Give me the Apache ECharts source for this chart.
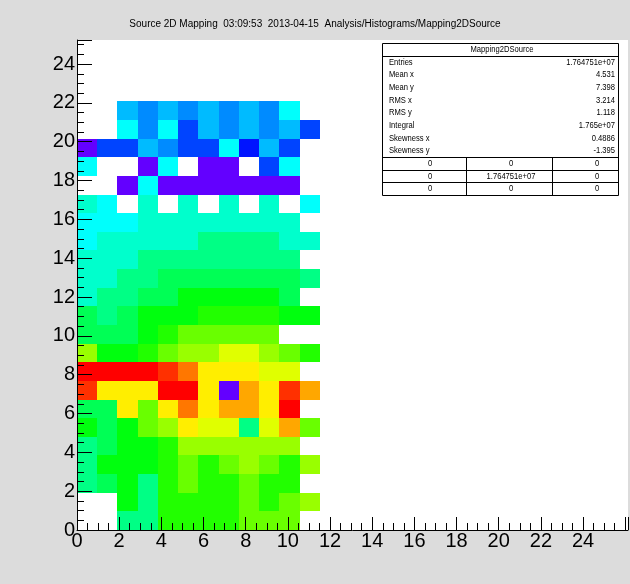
<!DOCTYPE html>
<html>
<head>
<meta charset="utf-8">
<script src="https://cdn.jsdelivr.net/npm/echarts@6/dist/echarts.min.js"></script>
<style>
  html, body { margin: 0; padding: 0; background: #dcdcdc; }
  #chart { width: 630px; height: 584px; }
</style>
</head>
<body>
<div id="chart"></div>
<script>
// ---- histogram definition ----
const titleText = 'Source 2D Mapping  03:09:53  2013-04-15  Analysis/Histograms/Mapping2DSource';
const histName = 'Mapping2DSource';
const binRange = [0, 24];      // same range on x and y
const binCount = 25;           // bins per axis
const topRow = 22;             // highest filled y bin

// colour level of every bin (0 = lowest of 20 contour levels, null = empty),
// listed from the top row (bin 22) down to bin 0, columns 0..11
const levelRows = [
  [null, null, 5, 4, 5, 4, 5, 4, 5, 4, 6, null],
  [null, null, 6, 4, 6, 3, 5, 4, 5, 4, 5, 3],
  [0, 3, 3, 5, 4, 3, 3, 6, 2, 5, 3, null],
  [6, null, null, 0, 6, null, 0, 0, null, 3, 6, null],
  [null, null, 0, 6, 0, 0, 0, 0, 0, 0, 0, null],
  [7, 6, null, 7, null, 7, null, 7, null, 7, null, 6],
  [6, 6, 6, 7, 7, 7, 7, 7, 7, 7, 7, null],
  [6, 7, 7, 7, 7, 7, 8, 8, 8, 8, 7, 7],
  [7, 7, 7, 8, 8, 8, 8, 8, 8, 8, 8, null],
  [7, 7, 8, 8, 9, 9, 9, 9, 9, 9, 9, 8],
  [7, 8, 8, 9, 9, 10, 10, 10, 10, 10, 9, null],
  [9, 8, 9, 10, 10, 10, 11, 11, 11, 11, 10, 10],
  [9, 9, 9, 10, 11, 12, 12, 12, 12, 12, null, null],
  [13, 10, 10, 11, 12, 13, 13, 14, 14, 13, 12, 11],
  [19, 19, 19, 19, 18, 17, 15, 15, 15, 14, 14, null],
  [18, 15, 15, 15, 19, 19, 15, 0, 16, 15, 18, 16],
  [9, 9, 15, 12, 15, 17, 15, 16, 16, 15, 19, null],
  [10, 9, 10, 12, 13, 15, 14, 14, 8, 14, 16, 12],
  [8, 9, 10, 10, 11, 13, 13, 13, 13, 13, 13, null],
  [8, 10, 10, 10, 11, 12, 11, 12, 13, 12, 11, 13],
  [8, 9, 10, 8, 11, 12, 11, 11, 12, 11, 11, null],
  [null, null, 10, 8, 11, 11, 11, 11, 12, 11, 12, 13],
  [null, null, 8, 8, 11, 11, 11, 11, 12, 12, 12, null]
];

// statistics box
const statLabels = ['Entries', 'Mean x', 'Mean y', 'RMS x', 'RMS y', 'Integral', 'Skewness x', 'Skewness y'];
const statValues = ['1.764751e+07', '4.531', '7.398', '3.214', '1.118', '1.765e+07', '0.4886', '-1.395'];
const overflowTable = [
  ['0', '0', '0'],
  ['0', '1.764751e+07', '0'],
  ['0', '0', '0']
];

// axis extents and tick labels
const xAxisMax = 26.13;
const yAxisMax = 25.24;
const tickStep = 2;
const lastLabel = 24;

// ---- palette: 20 contour levels picked from a 50-colour violet->red spectrum ----
const nLevels = 20, nPalette = 50;
function hslColor(h) {
  const f = (n) => {
    const k = (n + h / 30) % 12;
    const v = 0.5 - 0.5 * Math.max(-1, Math.min(k - 3, 9 - k, 1));
    return Math.round(v * 255);
  };
  return 'rgb(' + f(0) + ',' + f(8) + ',' + f(4) + ')';
}
function levelColor(j) {
  const idx = Math.floor((j + 0.99) * nPalette / nLevels);
  const hue = idx >= nPalette - 1 ? 0 : 280 - (idx + 1) * (280 / nPalette);
  return hslColor(hue);
}
const pieces = [];
for (let j = 0; j < nLevels; j++) pieces.push({ value: j, color: levelColor(j) });

// flatten to [column, row, level]
const cells = [];
levelRows.forEach((row, i) => {
  const r = topRow - i;
  row.forEach((lvl, c) => { if (lvl !== null) cells.push([c, r, lvl]); });
});
const binEdge = (k) => binRange[0] + k * (binRange[1] - binRange[0]) / binCount;

// ---- stats box drawing ----
const box = { x: 382, y: 43, w: 236, h: 152 };
const lineH = box.h / 12;
const narrow = 0.8;
const boxFont = '9.5px "Liberation Sans", Arial, sans-serif';
const graphics = [];
graphics.push({
  type: 'text', x: 315, y: 24, z: 100,
  style: { text: titleText, font: '10px "Liberation Sans", Arial, sans-serif', fill: '#000', textAlign: 'center', textVerticalAlign: 'middle' }
});
graphics.push({ type: 'rect', z: 100, shape: { x: box.x + 0.5, y: box.y + 0.5, width: box.w, height: box.h }, style: { fill: '#fff', stroke: '#000', lineWidth: 1 } });
graphics.push({ type: 'text', z: 101, x: box.x + box.w / 2 + 2, y: box.y + lineH * 0.5, scaleX: narrow,
  style: { text: histName, font: boxFont, fill: '#000', textAlign: 'center', textVerticalAlign: 'middle' } });
graphics.push({ type: 'line', z: 101, shape: { x1: box.x, y1: Math.round(box.y + lineH) + 0.5, x2: box.x + box.w, y2: Math.round(box.y + lineH) + 0.5 }, style: { stroke: '#000', lineWidth: 1 } });
statLabels.forEach((lab, k) => {
  const cy = box.y + lineH * (k + 1.5);
  graphics.push({ type: 'text', z: 101, x: box.x + 7, y: cy, scaleX: narrow,
    style: { text: lab, font: boxFont, fill: '#000', textAlign: 'left', textVerticalAlign: 'middle' } });
  graphics.push({ type: 'text', z: 101, x: box.x + box.w - 3, y: cy, scaleX: narrow,
    style: { text: statValues[k], font: boxFont, fill: '#000', textAlign: 'right', textVerticalAlign: 'middle' } });
});
const tableTop = box.y + lineH * 9;
const colEdges = [box.x, 466, 552, box.x + box.w];
const colCenters = [430, 511, 597];
for (let k = 0; k < 3; k++) {
  const y = Math.round(tableTop + lineH * k) + 0.5;
  graphics.push({ type: 'line', z: 101, shape: { x1: box.x, y1: y, x2: box.x + box.w, y2: y }, style: { stroke: '#000', lineWidth: 1 } });
}
[1, 2].forEach((i) => {
  graphics.push({ type: 'line', z: 101, shape: { x1: colEdges[i] + 0.5, y1: tableTop, x2: colEdges[i] + 0.5, y2: box.y + box.h }, style: { stroke: '#000', lineWidth: 1 } });
});
overflowTable.forEach((row, k) => {
  const cy = tableTop + lineH * (k + 0.5);
  row.forEach((t, i) => {
    graphics.push({ type: 'text', z: 101, x: colCenters[i], y: cy, scaleX: narrow,
      style: { text: t, font: boxFont, fill: '#000', textAlign: 'center', textVerticalAlign: 'middle' } });
  });
});

// ---- chart ----
const axisCommon = {
  type: 'value',
  min: 0,
  interval: tickStep,
  z: 5,
  axisLine: { show: true, onZero: false, lineStyle: { color: '#000', width: 1 } },
  axisTick: { show: true, inside: true, lineStyle: { color: '#000', width: 1 } },
  minorTick: { show: true, splitNumber: 4, length: 7, lineStyle: { color: '#000', width: 1 } },
  splitLine: { show: false },
  minorSplitLine: { show: false }
};

const chart = echarts.init(document.getElementById('chart'), null, { renderer: 'canvas' });
chart.setOption({
  backgroundColor: '#dcdcdc',
  animation: false,
  grid: { left: 77, right: 2, top: 40, bottom: 54, show: true, backgroundColor: '#fff', borderWidth: 0 },
  xAxis: Object.assign({}, axisCommon, {
    max: xAxisMax,
    axisTick: Object.assign({}, axisCommon.axisTick, { length: 13 }),
    axisLabel: {
      margin: 1, color: '#000', fontSize: 20, fontFamily: '"Liberation Sans", Arial, sans-serif',
      showMaxLabel: false,
      formatter: (v) => (v <= lastLabel ? String(v) : '')
    }
  }),
  yAxis: Object.assign({}, axisCommon, {
    max: yAxisMax,
    axisTick: Object.assign({}, axisCommon.axisTick, { length: 15 }),
    axisLabel: {
      margin: 2, color: '#000', fontSize: 20, fontFamily: '"Liberation Sans", Arial, sans-serif',
      showMaxLabel: false,
      formatter: (v) => (v <= lastLabel ? String(v) : '')
    }
  }),
  visualMap: { type: 'piecewise', show: false, dimension: 2, seriesIndex: 0, pieces: pieces },
  series: [{
    type: 'custom',
    name: histName,
    data: cells,
    encode: { x: 0, y: 1 },
    renderItem: function (params, api) {
      const c = api.value(0), r = api.value(1);
      const p0 = api.coord([binEdge(c), binEdge(r)]);
      const p1 = api.coord([binEdge(c + 1), binEdge(r + 1)]);
      const x0 = Math.round(p0[0]), x1 = Math.round(p1[0]);
      const yTop = Math.round(p1[1]), yBot = Math.round(p0[1]);
      return {
        type: 'rect',
        shape: { x: x0, y: yTop, width: x1 - x0, height: yBot - yTop },
        style: { fill: api.visual('color') }
      };
    }
  }],
  graphic: graphics
});
</script>
</body>
</html>
